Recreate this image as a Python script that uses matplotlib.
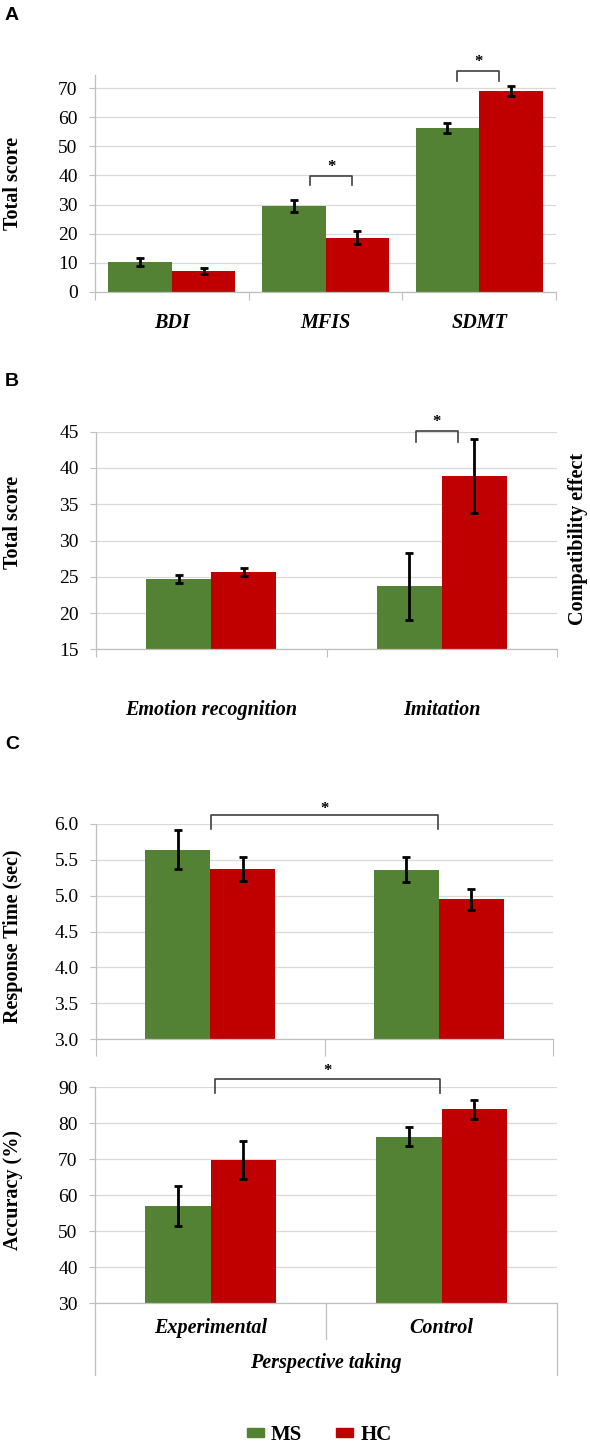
import matplotlib
matplotlib.use("Agg")
import matplotlib.pyplot as plt
from matplotlib.patches import Patch

plt.rcParams["font.family"] = ["Liberation Serif", "DejaVu Serif"]

GREEN = "#548235"
RED = "#C00000"
GRID = "#D9D9D9"
AXIS = "#BFBFBF"

# --- データ ---
# A: 質問紙スコア
a_labels = ["BDI", "MFIS", "SDMT"]
a_ms = [10.3, 29.5, 56.4]
a_ms_err = [1.5, 2.2, 1.7]
a_hc = [7.2, 18.7, 69.1]
a_hc_err = [1.1, 2.2, 1.7]

# B: 感情認識 / 模倣
b_labels = ["Emotion recognition", "Imitation"]
b_ms = [24.65, 23.7]
b_ms_err = [0.55, 4.6]
b_hc = [25.7, 38.9]
b_hc_err = [0.57, 5.05]

# C: 視点取得
c_labels = ["Experimental", "Control"]
c_rt_ms = [5.64, 5.36]
c_rt_ms_err = [0.27, 0.175]
c_rt_hc = [5.37, 4.95]
c_rt_hc_err = [0.17, 0.145]
c_acc_ms = [57.1, 76.2]
c_acc_ms_err = [5.55, 2.65]
c_acc_hc = [69.8, 83.8]
c_acc_hc_err = [5.3, 2.65]

W, H = 590, 1446
LABEL_SIZE = 14.5
fig = plt.figure(figsize=(W / 100, H / 100), dpi=100)


def px_axes(left, right, top, bottom):
    """ピクセル座標から axes を作成"""
    return fig.add_axes([left / W, 1 - bottom / H, (right - left) / W, (bottom - top) / H])


def draw_bars(ax, ms, ms_err, hc, hc_err, width, yticks, ylim, tick_len=6):
    x = list(range(len(ms)))
    ax.set_xlim(-0.5, len(ms) - 0.5)
    ax.set_ylim(*ylim)
    ax.set_axisbelow(True)
    ax.yaxis.grid(True, color=GRID, linewidth=0.9)
    ek = dict(ecolor="black", elinewidth=2, capsize=3, capthick=2)
    ax.bar([i - width / 2 for i in x], ms, width, color=GREEN, yerr=ms_err, error_kw=ek, zorder=2)
    ax.bar([i + width / 2 for i in x], hc, width, color=RED, yerr=hc_err, error_kw=ek, zorder=2)
    ax.set_yticks(yticks)
    ax.tick_params(axis="y", labelsize=14, length=4, color=AXIS, pad=8.5)
    ax.set_xticks([i - 0.5 for i in range(len(ms) + 1)])
    ax.set_xticklabels([])
    ax.tick_params(axis="x", length=tick_len, color=AXIS, direction="out")
    for s in ["top", "right"]:
        ax.spines[s].set_visible(False)
    for s in ["left", "bottom"]:
        ax.spines[s].set_color(AXIS)
        ax.spines[s].set_linewidth(0.9)


def bracket(ax, x0, x1, y_low, y_top, y_star):
    ax.plot([x0, x0, x1, x1], [y_low, y_top, y_top, y_low], color="#404040",
            linewidth=1.2, clip_on=False, zorder=3)
    ax.text((x0 + x1) / 2, y_star, "*", ha="center", va="center", fontsize=12,
            fontweight="bold", clip_on=False)


def cat_labels(ax, labels, y_frac, size=LABEL_SIZE):
    for i, lab in enumerate(labels):
        ax.text(i, y_frac, lab, transform=ax.get_xaxis_transform(), ha="center", va="center",
                fontsize=size, fontweight="bold", fontstyle="italic")


def ylabel(x, y, text):
    fig.text(x / W, 1 - y / H, text, rotation=90, ha="center", va="center",
             fontsize=LABEL_SIZE, fontweight="bold")


# --- A ---
axA = px_axes(95, 556, 75, 292)
draw_bars(axA, a_ms, a_ms_err, a_hc, a_hc_err, 0.413, range(0, 80, 10), (0, 74.5))
bracket(axA, 0.90, 1.175, 36.6, 39.9, 42.8)
bracket(axA, 1.858, 2.132, 72.4, 75.8, 78.9)
cat_labels(axA, a_labels, -0.143)
ylabel(13, 183, "Total score")

# --- B ---
axB = px_axes(96, 557, 431.7, 649.3)
draw_bars(axB, b_ms, b_ms_err, b_hc, b_hc_err, 0.283, range(15, 50, 5), (15, 45))
bracket(axB, 0.887, 1.071, 43.6, 45.1, 46.3)
cat_labels(axB, b_labels, -0.28)
ylabel(13, 522, "Total score")
ylabel(578, 539, "Compatibility effect")

# --- C (反応時間) ---
axC1 = px_axes(96, 553, 823.7, 1039.3)
draw_bars(axC1, c_rt_ms, c_rt_ms_err, c_rt_hc, c_rt_hc_err, 0.285,
          [3.0, 3.5, 4.0, 4.5, 5.0, 5.5, 6.0], (3.0, 6.0), tick_len=12)
axC1.set_yticklabels([f"{v:.1f}" for v in axC1.get_yticks()])
bracket(axC1, 0.005, 0.995, 5.92, 6.125, 6.21)
ylabel(13, 936, "Response Time (sec)")

# --- C (正答率) ---
axC2 = px_axes(95, 557, 1087, 1303.3)
draw_bars(axC2, c_acc_ms, c_acc_ms_err, c_acc_hc, c_acc_hc_err, 0.285,
          range(30, 100, 10), (30, 90), tick_len=0)
bracket(axC2, 0.018, 0.994, 88.3, 92.2, 94.3)
cat_labels(axC2, c_labels, -0.115)
tr = axC2.get_xaxis_transform()
for xb, yb in [(-0.5, -0.333), (0.5, -0.166), (1.5, -0.333)]:
    axC2.plot([xb, xb], [0, yb], transform=tr, color=AXIS, linewidth=0.9, clip_on=False)
axC2.text(0.5, -0.276, "Perspective taking", transform=tr, ha="center", va="center",
          fontsize=LABEL_SIZE, fontweight="bold", fontstyle="italic")
ylabel(13, 1190, "Accuracy (%)")

# パネルラベル
for lab, y in [("A", 15), ("B", 381), ("C", 745)]:
    fig.text(5 / W, 1 - y / H, lab, ha="left", va="center", fontsize=14, fontweight="bold",
             family="Liberation Sans")

# 凡例
handles = [Patch(color=GREEN, label="MS"), Patch(color=RED, label="HC")]
fig.legend(handles=handles, loc="center", bbox_to_anchor=(319 / W, 1 - 1435 / H), ncol=2,
           frameon=False, prop={"weight": "bold", "size": 15}, handlelength=0.85,
           handleheight=0.32, handletextpad=0.33, columnspacing=1.6,
           borderpad=0, borderaxespad=0)

fig.savefig("out.png", dpi=100)
